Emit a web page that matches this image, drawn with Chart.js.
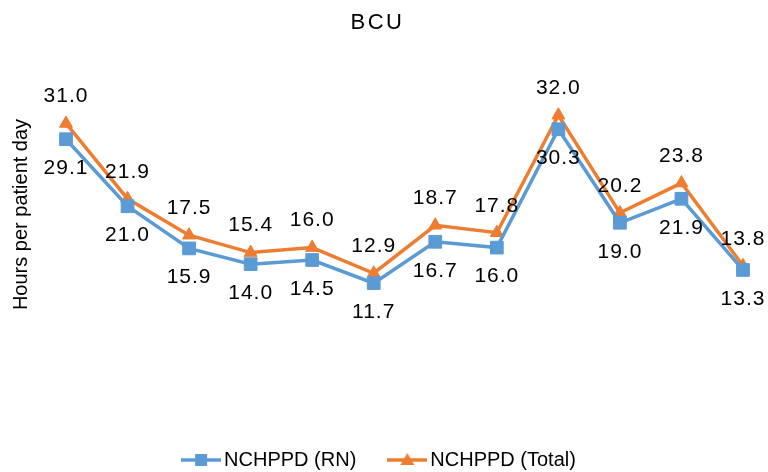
<!DOCTYPE html>
<html>
<head>
<meta charset="utf-8">
<script src="https://cdn.jsdelivr.net/npm/chart.js@4/dist/chart.umd.min.js"></script>
<style>
  body { margin: 0; background: #fff; }
  #wrap { width: 768px; height: 472px; }
</style>
</head>
<body>
<div id="wrap"><canvas id="bcuChart"></canvas></div>
<script>
const months = ['1', '2', '3', '4', '5', '6', '7', '8', '9', '10', '11', '12'];
const rnHours = [29.1, 21.0, 15.9, 14.0, 14.5, 11.7, 16.7, 16.0, 30.3, 19.0, 21.9, 13.3];
const totalHours = [31.0, 21.9, 17.5, 15.4, 16.0, 12.9, 18.7, 17.8, 32.0, 20.2, 23.8, 13.8];

const blue = '#5B9BD5';
const orange = '#ED7D31';

// small line+marker picture for the legend
function legendIcon(color, style) {
    const c = document.createElement('canvas');
    c.width = 40; c.height = 20;
    const g = c.getContext('2d');
    g.strokeStyle = color;
    g.lineWidth = 3.5;
    g.beginPath(); g.moveTo(0, 10); g.lineTo(40, 10); g.stroke();
    g.fillStyle = color;
    if (style === 'rect') {
        g.fillRect(14, 4, 12, 12);
    } else {
        g.beginPath(); g.moveTo(20, 3); g.lineTo(27, 15); g.lineTo(13, 15); g.closePath(); g.fill();
    }
    return c;
}

// data labels: RN below the point, Total above
const valueLabels = {
    id: 'valueLabels',
    afterDatasetsDraw(chart) {
        const ctx = chart.ctx;
        ctx.save();
        ctx.font = '21px "Liberation Sans", Arial, sans-serif';
        ctx.fillStyle = '#000';
        ctx.textAlign = 'center';
        ctx.textBaseline = 'middle';
        ctx.letterSpacing = '1px';
        chart.data.datasets.forEach((ds, i) => {
            const meta = chart.getDatasetMeta(i);
            meta.data.forEach((pt, j) => {
                const dy = i === 0 ? 29 : -27;
                ctx.fillText(ds.data[j].toFixed(1), pt.x, pt.y + dy);
            });
        });
        ctx.restore();
    }
};

// letter spacing + small shifts for the title and legend
function wrap(box, key, spacing, dx) {
    const orig = box[key].bind(box);
    box[key] = function() {
        const ctx = box.ctx;
        ctx.save();
        ctx.letterSpacing = spacing;
        if (dx) ctx.translate(dx, 0);
        const r = orig.apply(null, arguments);
        ctx.restore();
        return r;
    };
}
const textTweaks = {
    id: 'textTweaks',
    beforeLayout(chart) {
        if (chart._tweaked) return;
        chart._tweaked = true;
        if (chart.titleBlock) wrap(chart.titleBlock, 'draw', '2.5px', 6);
        if (chart.legend) wrap(chart.legend, 'draw', '0px', 10.5);
    }
};

new Chart(document.getElementById('bcuChart'), {
    type: 'line',
    data: {
        labels: months,
        datasets: [{
            label: 'NCHPPD (RN)',
            data: rnHours,
            borderColor: blue,
            backgroundColor: blue,
            borderWidth: 3.5,
            pointStyle: 'rect',
            pointRadius: 9,
            pointBorderWidth: 1,
            tension: 0
        }, {
            label: 'NCHPPD (Total)',
            data: totalHours,
            borderColor: orange,
            backgroundColor: orange,
            borderWidth: 3.5,
            pointStyle: 'triangle',
            pointRadius: 7.5,
            pointBorderWidth: 1,
            tension: 0
        }]
    },
    options: {
        responsive: true,
        maintainAspectRatio: false,
        animation: false,
        layout: { padding: { left: 0, right: 25, top: 0, bottom: -8 } },
        plugins: {
            title: {
                display: true,
                text: 'BCU',
                color: '#000',
                font: { family: '"Liberation Sans", Arial, sans-serif', size: 22, weight: 'normal', lineHeight: 1.2 },
                padding: { top: 10, bottom: 12.6 }
            },
            legend: {
                position: 'bottom',
                labels: {
                    color: '#000',
                    font: { family: '"Liberation Sans", Arial, sans-serif', size: 20, lineHeight: 1 },
                    usePointStyle: true,
                    pointStyleWidth: 26,
                    padding: 38,
                    generateLabels(chart) {
                        return chart.data.datasets.map((ds, i) => ({
                            text: ds.label,
                            datasetIndex: i,
                            pointStyle: legendIcon(ds.borderColor, ds.pointStyle),
                            fillStyle: ds.borderColor,
                            strokeStyle: ds.borderColor,
                            lineWidth: 0,
                            hidden: !chart.isDatasetVisible(i)
                        }));
                    }
                }
            },
            tooltip: { enabled: false }
        },
        scales: {
            x: {
                offset: false,
                ticks: { display: false },
                grid: { display: false },
                border: { display: false },
                afterFit(axis) { axis.height = 32; }
            },
            y: {
                min: 0,
                max: 40,
                ticks: { display: false },
                grid: { display: false },
                border: { display: false },
                title: {
                    display: true,
                    text: 'Hours per patient day',
                    color: '#000',
                    font: { family: '"Liberation Sans", Arial, sans-serif', size: 20 },
                    padding: { top: 9, bottom: 0 }
                },
                afterFit(axis) { axis.width = 66; }
            }
        }
    },
    plugins: [valueLabels, textTweaks]
});
</script>
</body>
</html>
